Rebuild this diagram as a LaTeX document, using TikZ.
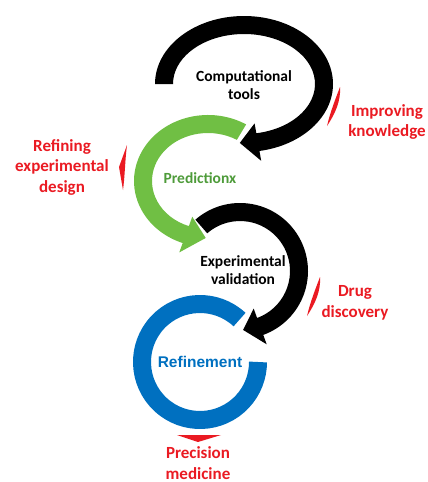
\documentclass[tikz,border=0pt]{standalone}
\usepackage{fontspec}
\setmainfont{Carlito}
\newfontfamily\arialfont{Liberation Sans}
\usetikzlibrary{calc}

\definecolor{cyclered}{RGB}{234,26,34}
\definecolor{cyclegreen}{RGB}{112,191,68}
\definecolor{labelgreen}{RGB}{78,155,58}
\definecolor{cycleblue}{RGB}{0,112,192}

% half thickness of a shaft and half width of an arrow head
\newcommand{\shafthalf}{9}
\newcommand{\headhalf}{19}

% curved arrow on an ellipse:
% #1 centre, #2 x radius, #3 y radius, #4 tail angle, #5 head base angle, #6 tip angle, #7 colour
\newcommand{\cyclearrow}[7]{%
  \pgfmathsetmacro{\cyaO}{#2+\shafthalf}\pgfmathsetmacro{\cybO}{#3+\shafthalf}%
  \pgfmathsetmacro{\cyaI}{#2-\shafthalf}\pgfmathsetmacro{\cybI}{#3-\shafthalf}%
  \pgfmathsetmacro{\cyaH}{#2+\headhalf}\pgfmathsetmacro{\cybH}{#3+\headhalf}%
  \pgfmathsetmacro{\cyaJ}{#2-\headhalf}\pgfmathsetmacro{\cybJ}{#3-\headhalf}%
  \fill[#7] ($(#1)+({\cyaO*cos(#4)},{\cybO*sin(#4)})$)
    arc[start angle=#4, end angle=#5, x radius=\cyaO, y radius=\cybO]
    -- ($(#1)+({\cyaH*cos(#5)},{\cybH*sin(#5)})$)
    -- ($(#1)+({#2*cos(#6)},{#3*sin(#6)})$)
    -- ($(#1)+({\cyaJ*cos(#5)},{\cybJ*sin(#5)})$)
    -- ($(#1)+({\cyaI*cos(#5)},{\cybI*sin(#5)})$)
    arc[start angle=#5, end angle=#4, x radius=\cyaI, y radius=\cybI]
    -- cycle;}

\tikzset{
  steplabel/.style={align=center, inner sep=0pt,
    font=\bfseries\fontsize{15.5}{17.5}\selectfont},
  outcome/.style={align=center, inner sep=0pt, text=cyclered,
    font=\bfseries\fontsize{17}{20.5}\selectfont},
  pointer/.style={fill=cyclered},
}

\begin{document}
\begin{tikzpicture}[x=1pt, y=-1pt]
\useasboundingbox (0,0) rectangle (428,482);

% centres of the four rings
\coordinate (compc) at (244,84);
\coordinate (predc) at (208,181);
\coordinate (valc)  at (240,271);
\coordinate (refc)  at (200,362);

% rings
\draw[cycleblue, line width=18]
  ($(refc)+({58*cos(-47)},{58*sin(-47)})$) arc[start angle=-47, end angle=-360, radius=58];
\cyclearrow{valc}{59}{59}{229}{430}{447}{black}
\cyclearrow{predc}{65}{57}{301}{110}{92}{cyclegreen}
\cyclearrow{compc}{80}{59}{180}{440}{453}{black}

% red pointers
\fill[pointer] (340,87) .. controls (341,101) and (335,114) .. (327,126)
  .. controls (330,113) and (335,100) .. cycle;
\fill[pointer] (127,145) -- (119,167) -- (123,190)
  .. controls (125,175) and (125,160) .. cycle;
\fill[pointer] (320,277) .. controls (321,291) and (315,304) .. (307,316)
  .. controls (310,303) and (315,290) .. cycle;
\fill[pointer] (177,435) -- (221,435) -- (198,442) -- cycle;

% labels inside the rings
\node[steplabel] (comp) at (244,85) {Computational\\tools};
\node[steplabel, text=labelgreen] (pred) at (200,178) {Predictionx};
\node[steplabel] (val) at (243,270) {Experimental\\validation};
\node[steplabel, text=cycleblue, font=\arialfont\bfseries\fontsize{15.5}{17.5}\selectfont] (ref) at (200,362) {Refinement};

% outcomes
\node[outcome] (know) at (387,122) {Improving\\knowledge};
\node[outcome] (design) at (62,167) {Refining\\experimental\\design};
\node[outcome] (drug) at (355,303) {Drug\\discovery};
\node[outcome] (prec) at (198,463) {Precision\\medicine};
\end{tikzpicture}
\end{document}
